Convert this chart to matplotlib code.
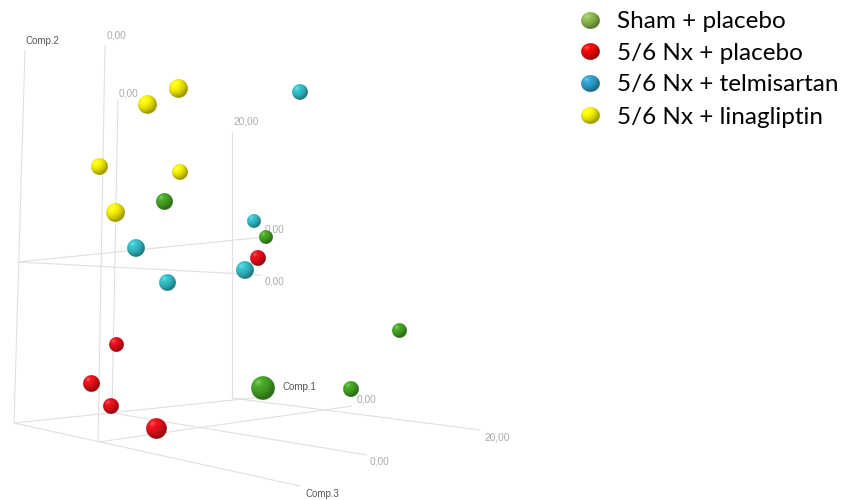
import numpy as np
import matplotlib
matplotlib.use("Agg")
import matplotlib.pyplot as plt

# ---- data: projected sample positions (screen units) and apparent sphere radius ----
groups = ["Sham + placebo", "5/6 Nx + placebo", "5/6 Nx + telmisartan", "5/6 Nx + linagliptin"]

sham_x = [165, 266, 400, 263, 351]
sham_y = [202, 237, 331, 388, 389]
sham_r = [8.5, 7.0, 7.5, 12.0, 8.0]

nx_x = [258, 117, 92, 111, 157]
nx_y = [258, 345, 384, 406, 429]
nx_r = [8.0, 7.5, 8.5, 8.0, 10.5]

telmi_x = [300, 254, 136, 245, 168]
telmi_y = [92, 221, 248, 270, 283]
telmi_r = [8.0, 7.0, 9.0, 9.0, 8.5]

lina_x = [179, 148, 100, 180, 116]
lina_y = [89, 105, 167, 172, 213]
lina_r = [9.5, 9.5, 8.5, 8.0, 9.5]

sphere_colors = [(0.27, 0.64, 0.14), (0.90, 0.06, 0.10), (0.20, 0.74, 0.78), (0.96, 0.93, 0.0)]
legend_colors = [(0.55, 0.73, 0.30), (0.93, 0.04, 0.04), (0.18, 0.63, 0.80), (0.95, 0.95, 0.0)]

# ---- 3D frame (projected) ----
frame_segments = [
    ((25, 50), (14, 423)),
    ((14, 423), (262, 397)),
    ((14, 423), (300, 486)),
    ((105, 45), (98, 442)),
    ((118, 100), (112, 413)),
    ((232, 132), (232, 398)),
    ((18, 262), (265, 237)),
    ((18, 262), (262, 275)),
    ((98, 442), (352, 406)),
    ((112, 413), (367, 455)),
    ((232, 398), (480, 430)),
]
tick_labels = [
    ("0,00", 117, 36), ("0,00", 129, 94), ("20,00", 246, 122),
    ("0,00", 275, 229), ("0,00", 275, 282), ("0,00", 367, 399),
    ("20,00", 497, 438), ("0,00", 380, 462),
]
axis_labels = [("Comp.2", 26, 41, "left"), ("Comp.1", 283, 387, "left"), ("Comp.3", 322, 494, "center")]


def sphere_rgba(base, n=64):
    u = np.linspace(-1, 1, n)
    uu, vv = np.meshgrid(u, u)
    d2 = uu ** 2 + vv ** 2
    zz = np.sqrt(np.clip(1 - d2, 0, 1))
    light = np.array([-0.40, -0.50, 0.77])
    light = light / np.linalg.norm(light)
    diff = np.clip(uu * light[0] + vv * light[1] + zz * light[2], 0, 1)
    inten = 0.66 + 0.42 * diff
    rgb = np.clip(np.array(base)[None, None, :] * inten[..., None], 0, 1)
    spec = (diff ** 30 * 0.30)[..., None]
    rgb = rgb + (1 - rgb) * spec
    alpha = np.clip((1 - np.sqrt(d2)) * n / 2 + 0.5, 0, 1)
    return np.dstack([rgb, alpha])


def draw_sphere(ax, x, y, rx, ry, base, z):
    img = sphere_rgba(base)
    ax.imshow(img, extent=(x - rx, x + rx, y + ry, y - ry), origin="upper",
              interpolation="antialiased", zorder=z)


fig = plt.figure(figsize=(8.45, 5.0), dpi=100)
ax = fig.add_axes([0, 0, 1, 1])
ax.set_xlim(0, 845)
ax.set_ylim(500, 0)
ax.axis("off")

for (x0, y0), (x1, y1) in frame_segments:
    ax.plot([x0, x1], [y0, y1], color="#e0e0e0", lw=0.8, zorder=1, solid_capstyle="butt")

for txt, x, y in tick_labels:
    ax.text(x, y, txt, fontsize=7.3, color="#ababab", ha="center", va="center",
            family="Liberation Sans", zorder=5)
for txt, x, y, ha in axis_labels:
    ax.text(x, y, txt, fontsize=7.0, color="#555555", ha=ha, va="center",
            family="Liberation Sans", zorder=5)

# spheres: smaller (farther) first so nearer ones overlap them
series = [(sham_x, sham_y, sham_r), (nx_x, nx_y, nx_r), (telmi_x, telmi_y, telmi_r), (lina_x, lina_y, lina_r)]
pts = []
for gi, (xs, ys, rs) in enumerate(series):
    for x, y, r in zip(xs, ys, rs):
        pts.append((r, x, y, gi))
pts.sort()
for k, (r, x, y, gi) in enumerate(pts):
    draw_sphere(ax, x, y, r, r, sphere_colors[gi], 10 + k)

# legend
leg_y = [21, 52, 84, 116]
for gi, name in enumerate(groups):
    draw_sphere(ax, 591, leg_y[gi], 9.5, 8.5, legend_colors[gi], 50)
    ax.text(617, leg_y[gi] + 1, name, fontsize=17.5, family=["Lato", "DejaVu Sans"],
            ha="left", va="center", color="black", zorder=51)

ax.set_xlim(0, 845)
ax.set_ylim(500, 0)
fig.savefig("out.png", dpi=100)
